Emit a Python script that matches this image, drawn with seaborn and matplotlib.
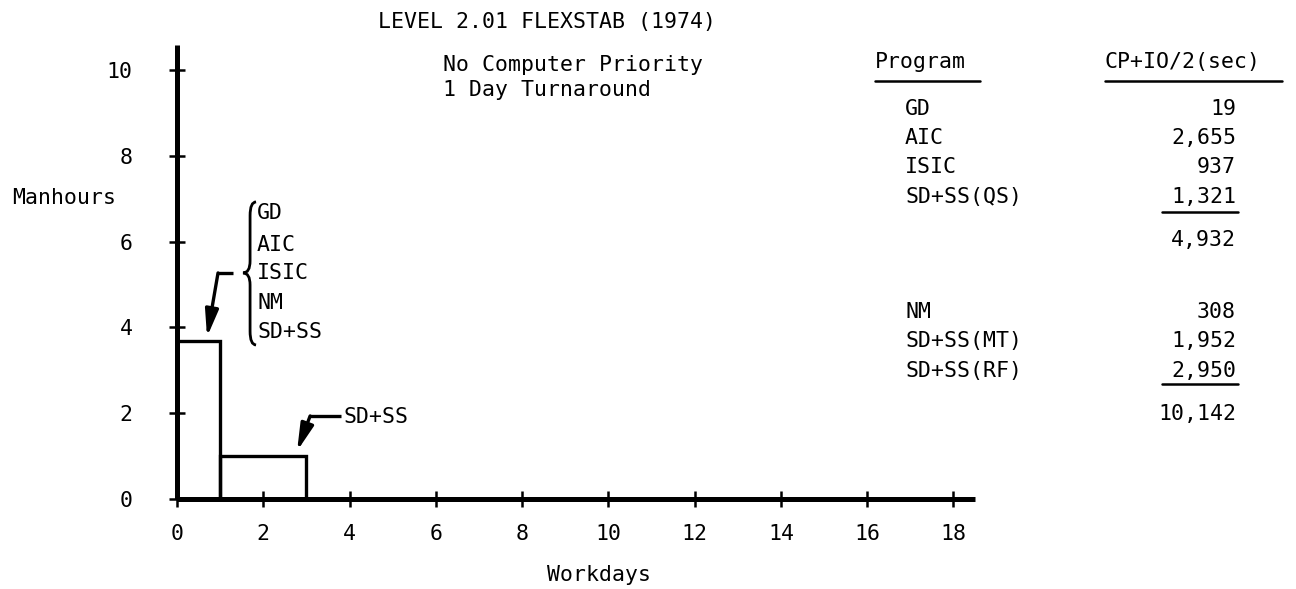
import matplotlib
matplotlib.use("Agg")
import matplotlib.pyplot as plt
import seaborn as sns
import numpy as np
import pandas as pd
from matplotlib.path import Path
from matplotlib.patches import PathPatch
from matplotlib.lines import Line2D

# ---------------- data ----------------
bar_edges = [0, 1, 3]            # workdays bin edges
bar_mid = [0.5, 2.0]             # bin centres
bar_manhours = [3.69, 1.0]       # manhours per bin
x_ticks = list(range(0, 19, 2))
y_ticks = list(range(0, 11, 2))

brace_programs = ["GD", "AIC", "ISIC", "NM", "SD+SS"]
second_label = "SD+SS"

table_programs_1 = ["GD", "AIC", "ISIC", "SD+SS(QS)"]
table_values_1 = ["19", "2,655", "937", "1,321"]
table_total_1 = "4,932"
table_programs_2 = ["NM", "SD+SS(MT)", "SD+SS(RF)"]
table_values_2 = ["308", "1,952", "2,950"]
table_total_2 = "10,142"

title = "LEVEL 2.01 FLEXSTAB (1974)"
subtitle = ["No Computer Priority", "1 Day Turnaround"]
header_program = "Program"
header_value = "CP+IO/2(sec)"

# ---------------- style ----------------
sns.set_style("white")
FONT = ["DejaVu Sans Mono", "DejaVu Sans"]
plt.rcParams["font.family"] = FONT
plt.rcParams["text.color"] = "black"
plt.rcParams["xtick.color"] = "black"
plt.rcParams["ytick.color"] = "black"
FS = 15.5

W, H = 1296, 589
fig = plt.figure(figsize=(W / 100, H / 100), dpi=100)
ax = fig.add_axes([177 / W, 1 - 499 / H, 798 / W, (499 - 45) / H])

df = pd.DataFrame({"workdays": bar_mid, "manhours": bar_manhours})
sns.histplot(data=df, x="workdays", weights="manhours", bins=bar_edges,
             fill=False, color="black", linewidth=2.4, ax=ax)

ax.set_xlim(0, 18.5)
ax.set_ylim(0, 10.58)
ax.set_xticks(x_ticks)
ax.set_yticks(y_ticks)
ax.set_xlabel("")
ax.set_ylabel("")
for s in ["top", "right"]:
    ax.spines[s].set_visible(False)
for s in ["left", "bottom"]:
    ax.spines[s].set_linewidth(3.6)
    ax.spines[s].set_color("black")
    ax.spines[s].set_capstyle("butt")
ax.tick_params(axis="both", which="major", direction="inout", length=12,
               width=1.8, colors="black", labelcolor="black", labelsize=FS,
               bottom=True, left=True, top=False, right=False)
ax.tick_params(axis="x", pad=12)
ax.tick_params(axis="y", pad=26)
for lab in ax.get_xticklabels() + ax.get_yticklabels():
    lab.set_family(FONT)

def px(x, y):
    return (x / W, 1 - y / H)

TXT = dict(fontsize=FS, color="black")

# axis labels
fig.text(*px(12, 198), "Manhours", ha="left", va="center", **TXT)
fig.text(*px(599, 575), "Workdays", ha="center", va="center", **TXT)

# title & notes
fig.text(*px(378, 22), title, ha="left", va="center", **TXT)
fig.text(*px(443, 65), subtitle[0], ha="left", va="center", **TXT)
fig.text(*px(443, 90), subtitle[1], ha="left", va="center", **TXT)

# brace with program list
bx_tip, bx_stem, bx_end = 1.531, 1.694, 1.833
by_top, by_mid, by_bot = 6.923, 5.268, 3.590
verts = [(bx_end, by_top), (bx_stem, by_top), (bx_stem, by_top - 0.32),
         (bx_stem, by_mid + 0.28),
         (bx_stem, by_mid), (bx_tip, by_mid),
         (bx_stem, by_mid), (bx_stem, by_mid - 0.28),
         (bx_stem, by_bot + 0.32),
         (bx_stem, by_bot), (bx_end, by_bot)]
codes = [Path.MOVETO, Path.CURVE3, Path.CURVE3, Path.LINETO,
         Path.CURVE3, Path.CURVE3, Path.CURVE3, Path.CURVE3,
         Path.LINETO, Path.CURVE3, Path.CURVE3]
ax.add_patch(PathPatch(Path(verts, codes), fill=False, lw=2.0, color="black",
                       clip_on=False))
brace_y = [6.667, 5.921, 5.268, 4.569, 3.893]
for name, yy in zip(brace_programs, brace_y):
    ax.text(1.856, yy, name, ha="left", va="center", clip_on=False, **TXT)

ARROW = dict(arrowstyle="-|>,head_length=0.9,head_width=0.22",
             lw=2.4, color="black", mutation_scale=18, shrinkA=0, shrinkB=0)

# arrow 1 (from brace to first bar)
ax.plot([1.30, 0.951], [5.268, 5.268], color="black", lw=2.4,
        solid_capstyle="butt")
ax.annotate("", xy=(0.696, 3.776), xytext=(0.951, 5.268), arrowprops=ARROW)

# arrow 2 (SD+SS to second bar)
ax.text(3.85, 1.911, second_label, ha="left", va="center", **TXT)
ax.plot([3.80, 3.086], [1.935, 1.935], color="black", lw=2.4,
        solid_capstyle="butt")
ax.annotate("", xy=(2.784, 1.119), xytext=(3.086, 1.935), arrowprops=ARROW)

# right-hand table
fig.text(*px(875, 62), header_program, ha="left", va="center", **TXT)
fig.text(*px(1105, 62), header_value, ha="left", va="center", **TXT)

def hline(x0, x1, y, lw=1.8):
    fig.add_artist(Line2D([x0 / W, x1 / W], [1 - y / H, 1 - y / H],
                          color="black", lw=lw))

hline(875, 980, 81)
hline(1105, 1282, 81)

rows1_y = [109, 138, 167, 197]
for name, val, yy in zip(table_programs_1, table_values_1, rows1_y):
    fig.text(*px(905, yy), name, ha="left", va="center", **TXT)
    fig.text(*px(1236, yy), val, ha="right", va="center", **TXT)
hline(1162, 1238, 212)
fig.text(*px(1236, 240), table_total_1, ha="right", va="center", **TXT)

rows2_y = [312, 341, 371]
for name, val, yy in zip(table_programs_2, table_values_2, rows2_y):
    fig.text(*px(905, yy), name, ha="left", va="center", **TXT)
    fig.text(*px(1236, yy), val, ha="right", va="center", **TXT)
hline(1162, 1238, 384)
fig.text(*px(1236, 414), table_total_2, ha="right", va="center", **TXT)

fig.savefig("out.png", dpi=100, facecolor="white")
